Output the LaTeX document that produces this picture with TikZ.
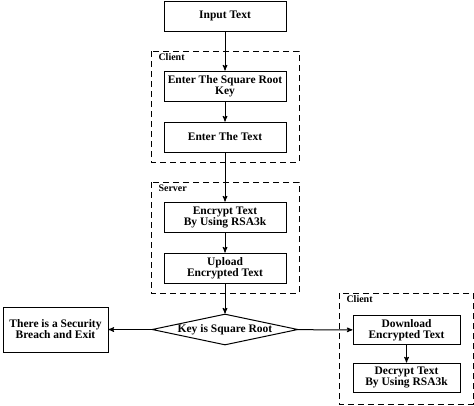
\documentclass[tikz,border=0pt]{standalone}
\usepackage{fontspec}
\setmainfont{Liberation Serif}
\usetikzlibrary{arrows,shapes.geometric}

\begin{document}
\begin{tikzpicture}[x=1pt,y=-1pt,->,>=stealth',line width=1pt,
                    font=\fontsize{11.5}{11}\selectfont\bfseries]
  \tikzstyle{every node}=[align=center,inner sep=0pt]
  \tikzstyle{box}=[draw,rectangle,minimum width=122pt,minimum height=30pt]
  \tikzstyle{smallbox}=[draw,rectangle,minimum width=107pt,minimum height=29pt]
  \tikzstyle{group}=[draw,dashed,dash pattern=on 6pt off 4pt,line width=1pt,-]
  \tikzstyle{grouplabel}=[anchor=north west,font=\fontsize{10}{11}\selectfont\bfseries]

  \useasboundingbox (0,0) rectangle (474,405);

  % dashed groups
  \draw[group] (151,51) rectangle (299,162);
  \draw[group] (151,182) rectangle (299,293);
  \draw[group] (339,293) rectangle (473,404);
  \node[grouplabel] (client1) at (158,53) {Client};
  \node[grouplabel] (server)  at (158,184) {Server};
  \node[grouplabel] (client2) at (346,295) {Client};

  \node[box] (input)   at (225,16)  {Input Text};
  \node[box] (key)     at (225,86)  {Enter The Square Root\\Key};
  \node[box] (text)    at (225,137) {Enter The Text};
  \node[box] (encrypt) at (225,217) {Encrypt Text\\By Using RSA3k};
  \node[box] (upload)  at (225,268) {Upload\\Encrypted Text};
  \node[draw,diamond,aspect=4.7,minimum width=146pt,minimum height=31pt]
                       (check) at (225,329.5) {Key is Square Root};
  \node[draw,rectangle,minimum width=105pt,minimum height=45pt]
                       (breach) at (55.5,329.5) {There is a Security\\Breach and Exit};
  \node[smallbox] (download) at (406.5,330)   {Download\\Encrypted Text};
  \node[smallbox] (decrypt)  at (406.5,377.5) {Decrypt Text\\By Using RSA3k};

  \draw (input) -- (key);
  \draw (key) -- (text);
  \draw (text) -- (encrypt);
  \draw (encrypt) -- (upload);
  \draw (upload) -- (check);
  \draw (check) -- (breach);
  \draw (check) -- (download);
  \draw (download) -- (decrypt);

\end{tikzpicture}
\end{document}
